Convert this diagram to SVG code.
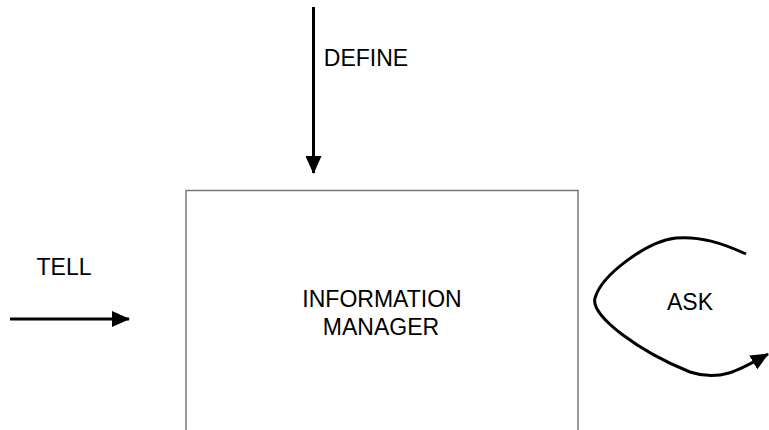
<svg xmlns="http://www.w3.org/2000/svg" width="769" height="430" viewBox="0 0 769 430">
<style>
  text { font-family: "Liberation Sans", Arial, sans-serif; font-size: 23px; fill: #000; text-anchor: middle; }
  .box { fill: #fff; stroke: #777; stroke-width: 1.5; }
  .conn { fill: none; stroke: #000; stroke-width: 3; }
</style>
<defs>
  <marker id="ah" viewBox="0 0 18 16" refX="17" refY="8" markerWidth="18" markerHeight="16" markerUnits="userSpaceOnUse" orient="auto">
    <path d="M0,0 L18,8 L0,16 z" fill="#000"/>
  </marker>
</defs>
<rect width="769" height="430" fill="#fff"/>
<g id="information-manager">
  <path class="box" d="M186,432 L186,190.5 L578,190.5 L578,432"/>
  <text x="382" y="307">INFORMATION</text>
  <text x="381" y="335">MANAGER</text>
</g>
<g id="connectors">
  <g id="define">
    <path class="conn" d="M313.5,7 L313.5,173" marker-end="url(#ah)"/>
    <text x="366" y="66">DEFINE</text>
  </g>
  <g id="tell">
    <path class="conn" d="M10,319 L129,319" marker-end="url(#ah)"/>
    <text x="64" y="275">TELL</text>
  </g>
  <g id="ask">
    <path class="conn" d="M746,254 C722,243 700,236 676,238 C648,241 602,274 595,298 C590,316 640,352 690,372 C720,382 740,370 768,354" marker-end="url(#ah)"/>
    <text x="690" y="310">ASK</text>
  </g>
</g>
</svg>
